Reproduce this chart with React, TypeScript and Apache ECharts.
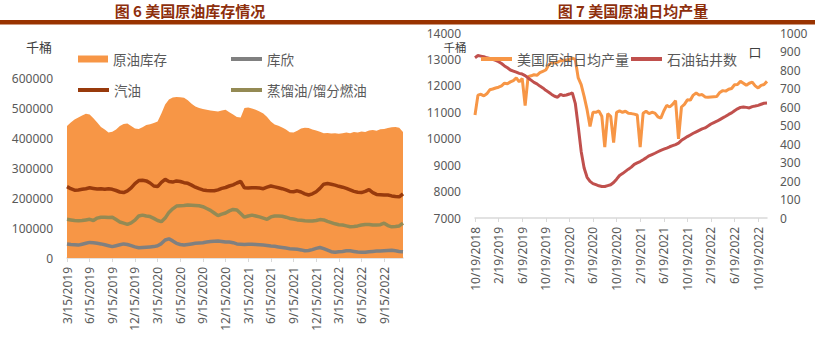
import React, { useEffect, useRef } from "react";
import * as echarts from "echarts";

// ---------- Left chart: 美国原油库存 (千桶), semi-monthly samples from 3/15/2019 ----------
const crudeStock = [
  440000, 452000, 462000, 468000, 475000, 481000, 478000, 466000, 452000, 437000,
  428000, 418000, 421000, 428000, 440000, 447000, 448000, 440000, 432000, 430000,
  436000, 443000, 446000, 450000, 455000, 482000, 512000, 528000, 535000, 537000,
  536000, 534000, 526000, 514000, 505000, 500000, 497000, 494000, 492000, 490000,
  488000, 492000, 494000, 486000, 478000, 470000, 468000, 500000, 502000, 498000,
  494000, 488000, 482000, 470000, 455000, 445000, 441000, 435000, 428000, 419000,
  418000, 424000, 432000, 434000, 433000, 428000, 425000, 421000, 416000, 417000,
  415000, 416000, 414000, 416000, 418000, 416000, 420000, 418000, 422000, 420000,
  425000, 427000, 424000, 429000, 430000, 433000, 436000, 437000, 434000, 420000,
];
const cushing = [
  47000, 45000, 44000, 43000, 46000, 49000, 52000, 51000, 49000, 47000,
  44000, 41000, 38000, 41000, 44000, 47000, 45000, 41000, 37000, 34000,
  35000, 36000, 37000, 38000, 41000, 48000, 60000, 64000, 57000, 49000,
  45000, 43000, 45000, 47000, 49000, 50000, 51000, 53000, 55000, 56000,
  57000, 55000, 53000, 53000, 51000, 47000, 46000, 45000, 46000, 46000,
  45000, 44000, 43000, 42000, 40000, 39000, 37000, 35000, 33000, 31000,
  30000, 29000, 27000, 24000, 25000, 28000, 32000, 35000, 31000, 26000,
  21000, 19000, 21000, 22000, 24000, 24000, 22000, 20000, 19000, 19000,
  21000, 22000, 23000, 23000, 24000, 25000, 26000, 24000, 22000, 21000,
];
const gasoline = [
  238000, 231000, 226000, 227000, 229000, 231000, 234000, 232000, 230000, 231000,
  229000, 231000, 229000, 225000, 220000, 218000, 224000, 234000, 248000, 258000,
  259000, 257000, 250000, 240000, 238000, 252000, 262000, 255000, 253000, 257000,
  255000, 251000, 249000, 243000, 236000, 231000, 227000, 225000, 224000, 224000,
  227000, 232000, 235000, 240000, 244000, 250000, 255000, 234000, 233000, 234000,
  234000, 233000, 231000, 236000, 240000, 237000, 234000, 231000, 227000, 222000,
  221000, 224000, 220000, 214000, 210000, 214000, 221000, 232000, 246000, 248000,
  246000, 243000, 239000, 236000, 232000, 227000, 222000, 219000, 218000, 222000,
  228000, 218000, 212000, 211000, 210000, 210000, 207000, 205000, 204000, 214000,
];
const distillate = [
  129000, 127000, 125000, 124000, 125000, 127000, 129000, 125000, 133000, 136000,
  136000, 135000, 136000, 128000, 120000, 116000, 112000, 117000, 126000, 140000,
  143000, 140000, 138000, 132000, 125000, 121000, 133000, 152000, 164000, 173000,
  174000, 175000, 177000, 176000, 175000, 174000, 171000, 165000, 159000, 150000,
  141000, 146000, 150000, 157000, 162000, 160000, 148000, 136000, 140000, 143000,
  140000, 137000, 133000, 129000, 137000, 140000, 140000, 139000, 136000, 132000,
  130000, 127000, 126000, 124000, 123000, 123000, 125000, 128000, 127000, 122000,
  118000, 114000, 111000, 110000, 107000, 104000, 105000, 107000, 110000, 112000,
  112000, 110000, 110000, 111000, 116000, 108000, 104000, 105000, 107000, 116000,
];

// ---------- Right chart: 美国原油日均产量 (千桶) & 石油钻井数 (口), semi-monthly from 10/19/2018 ----------
const production = [
  10900, 11650, 11680, 11620, 11700, 11850, 11880, 11920, 11950, 12000,
  12100, 12080, 12150, 12200, 12300, 12150, 12280, 11250, 12350, 12380,
  12420, 12400, 12500, 12550, 12600, 12800, 12880, 12860, 12900, 12950,
  12970, 12980, 13000, 13050, 13000, 12300, 12050, 11600, 11100, 10460,
  11000, 11000, 11050, 10850, 9680, 10950, 10850, 9850, 11000, 11050,
  11000, 11040, 10960, 10950, 10930, 10900, 9680, 10960, 11040, 10950,
  11000, 10970, 10830, 10780, 11050, 11260, 11200, 11300, 11440, 9990,
  11200, 11300, 11470, 11460, 11650, 11730, 11650, 11670, 11580, 11570,
  11580, 11590, 11600, 11750, 11820, 11800, 11870, 11900, 12040, 12050,
  12170, 12100, 12020, 12100, 12140, 12000, 11920, 12020, 12050, 12170,
];
const rigs = [
  866, 878, 875, 872, 866, 862, 858, 852, 845, 835,
  822, 812, 800, 794, 788, 782, 778, 770, 757, 745,
  733, 725, 713, 703, 690, 680, 668, 658, 653, 668,
  662, 665, 670, 676, 620, 495, 360, 270, 220, 198,
  186, 180, 174, 170, 170, 175, 180, 192, 210, 230,
  240, 252, 264, 275, 290, 298, 305, 315, 325, 336,
  343, 350, 358, 366, 372, 378, 385, 391, 397, 405,
  420, 430, 440, 449, 458, 466, 474, 482, 487, 497,
  508, 516, 523, 532, 541, 550, 560, 568, 580, 590,
  598, 600, 598, 595, 602, 605, 609, 615, 620, 621,
];

// Category dates (semi-monthly)
const fmt = (y: number, m: number, d: number) => {
  const yy = y + Math.floor((m - 1) / 12);
  const mm = ((m - 1) % 12) + 1;
  return `${mm}/${d}/${yy}`;
};
const leftCats: string[] = crudeStock.map((_, i) =>
  i % 2 === 0 ? fmt(2019, 3 + i / 2, 15) : fmt(2019, 3 + (i + 1) / 2, 1)
);
const rightCats: string[] = production.map((_, i) =>
  i % 2 === 0 ? fmt(2018, 10 + i / 2, 19) : fmt(2018, 10 + (i + 1) / 2, 4)
);

const TITLES = ["图 6 美国原油库存情况", "图 7 美国原油日均产量"];
const FONT = "'Noto Sans', 'Noto Sans CJK SC', sans-serif";
const CJK = "'Noto Sans CJK SC', sans-serif";
const GRAY = "#595959";
const AXIS = "#D9D9D9";

const COLORS = {
  crude: "#F79646",
  cushing: "#808080",
  gasoline: "#983A0C",
  distillate: "#948A54",
  production: "#F79646",
  rigs: "#C0504D",
};

export default function App() {
  const ref = useRef<HTMLDivElement>(null);
  useEffect(() => {
    if (!ref.current) return;
    const chart = echarts.init(ref.current, null, { renderer: "svg" });
    const legendText = { color: GRAY, fontSize: 13.5, fontFamily: CJK, lineHeight: 14 };
    const xLabel = { rotate: 90, fontSize: 12, color: GRAY, fontFamily: FONT, margin: 9 };
    const yLabel = { fontSize: 12, color: GRAY, fontFamily: FONT, formatter: (v: number) => String(v) };
    const lineLegend = (name: string, color: string, left: number, top: number, fontSize = 13.5) => ({
      left, top, padding: 0, itemWidth: 31, itemHeight: 4,
      textStyle: { ...legendText, fontSize },
      data: [{ name, icon: "rect", itemStyle: { color } }],
    });
    const option: any = {
      animation: false,
      backgroundColor: "#ffffff",
      textStyle: { fontFamily: FONT },
      graphic: [
        { type: "rect", shape: { x: 0, y: 20, width: 815, height: 4.5 }, style: { fill: "#993300" } },
        {
          type: "text", x: 190, y: 10,
          style: { text: TITLES[0], fill: "#8E2F0C", font: `bold 15px ${CJK}`, textAlign: "center", textVerticalAlign: "middle" },
        },
        {
          type: "text", x: 633, y: 10,
          style: { text: TITLES[1], fill: "#8E2F0C", font: `bold 15px ${CJK}`, textAlign: "center", textVerticalAlign: "middle" },
        },
        {
          type: "text", x: 39, y: 46,
          style: { text: "千桶", fill: "#404040", font: `13px ${CJK}`, textAlign: "center", textVerticalAlign: "middle" },
        },
        {
          type: "text", x: 455, y: 46.5,
          style: { text: "千桶", fill: "#404040", font: `11.5px ${CJK}`, textAlign: "center", textVerticalAlign: "middle" },
        },
        {
          type: "text", x: 755, y: 51,
          style: { text: "口", fill: "#404040", font: `13px ${CJK}`, textAlign: "center", textVerticalAlign: "middle" },
        },
      ],
      legend: [
        {
          left: 78, top: 52, padding: 0, itemWidth: 30, itemHeight: 7, textStyle: legendText,
          data: [{ name: "原油库存", icon: "rect", itemStyle: { color: COLORS.crude } }],
        },
        lineLegend("库欣", COLORS.cushing, 231, 52),
        lineLegend("汽油", COLORS.gasoline, 78, 83),
        lineLegend("蒸馏油/馏分燃油", COLORS.distillate, 231, 83),
        lineLegend("美国原油日均产量", COLORS.production, 481, 52, 14),
        lineLegend("石油钻井数", COLORS.rigs, 631, 52, 14),
      ],
      grid: [
        { left: 67, right: 412, top: 78, height: 180, containLabel: false },
        { left: 475, right: 48, top: 33, height: 185, containLabel: false },
      ],
      xAxis: [
        {
          type: "category", gridIndex: 0, data: leftCats, boundaryGap: false,
          axisLine: { lineStyle: { color: AXIS, width: 1.5 } },
          axisTick: { interval: 5, length: 4, lineStyle: { color: AXIS } },
          axisLabel: { ...xLabel, interval: 5 },
        },
        {
          type: "category", gridIndex: 1, data: rightCats, boundaryGap: false,
          axisLine: { lineStyle: { color: AXIS, width: 1.5 } },
          axisTick: { interval: 7, length: 4, lineStyle: { color: AXIS } },
          axisLabel: { ...xLabel, interval: 7 },
        },
      ],
      yAxis: [
        {
          type: "value", gridIndex: 0, min: 0, max: 600000, interval: 100000,
          axisLine: { show: false }, axisTick: { show: false }, splitLine: { show: false },
          axisLabel: { ...yLabel, margin: 14 },
        },
        {
          type: "value", gridIndex: 1, min: 7000, max: 14000, interval: 1000,
          axisLine: { show: false }, axisTick: { show: false }, splitLine: { show: false },
          axisLabel: { ...yLabel, margin: 14 },
        },
        {
          type: "value", gridIndex: 1, position: "right", min: 0, max: 1000, interval: 100,
          axisLine: { show: false }, axisTick: { show: false }, splitLine: { show: false },
          axisLabel: { ...yLabel, margin: 13 },
        },
      ],
      series: [
        {
          name: "原油库存", type: "line", xAxisIndex: 0, yAxisIndex: 0, data: crudeStock,
          symbol: "none", color: COLORS.crude, lineStyle: { width: 0 },
          areaStyle: { color: COLORS.crude, opacity: 1 },
        },
        {
          name: "库欣", type: "line", xAxisIndex: 0, yAxisIndex: 0, data: cushing,
          symbol: "none", color: COLORS.cushing, lineStyle: { width: 3.5, color: COLORS.cushing },
        },
        {
          name: "汽油", type: "line", xAxisIndex: 0, yAxisIndex: 0, data: gasoline,
          symbol: "none", color: COLORS.gasoline, lineStyle: { width: 3.5, color: COLORS.gasoline },
        },
        {
          name: "蒸馏油/馏分燃油", type: "line", xAxisIndex: 0, yAxisIndex: 0, data: distillate,
          symbol: "none", color: COLORS.distillate, lineStyle: { width: 3.5, color: COLORS.distillate },
        },
        {
          name: "美国原油日均产量", type: "line", xAxisIndex: 1, yAxisIndex: 1, data: production,
          symbol: "none", color: COLORS.production, lineStyle: { width: 3, color: COLORS.production },
        },
        {
          name: "石油钻井数", type: "line", xAxisIndex: 1, yAxisIndex: 2, data: rigs,
          symbol: "none", color: COLORS.rigs, lineStyle: { width: 3, color: COLORS.rigs },
        },
      ],
    };
    chart.setOption(option);
    return () => chart.dispose();
  }, []);
  return (
    <div
      ref={ref}
      style={{ position: "fixed", left: 0, top: 0, width: 815, height: 337, background: "#fff" }}
    />
  );
}
